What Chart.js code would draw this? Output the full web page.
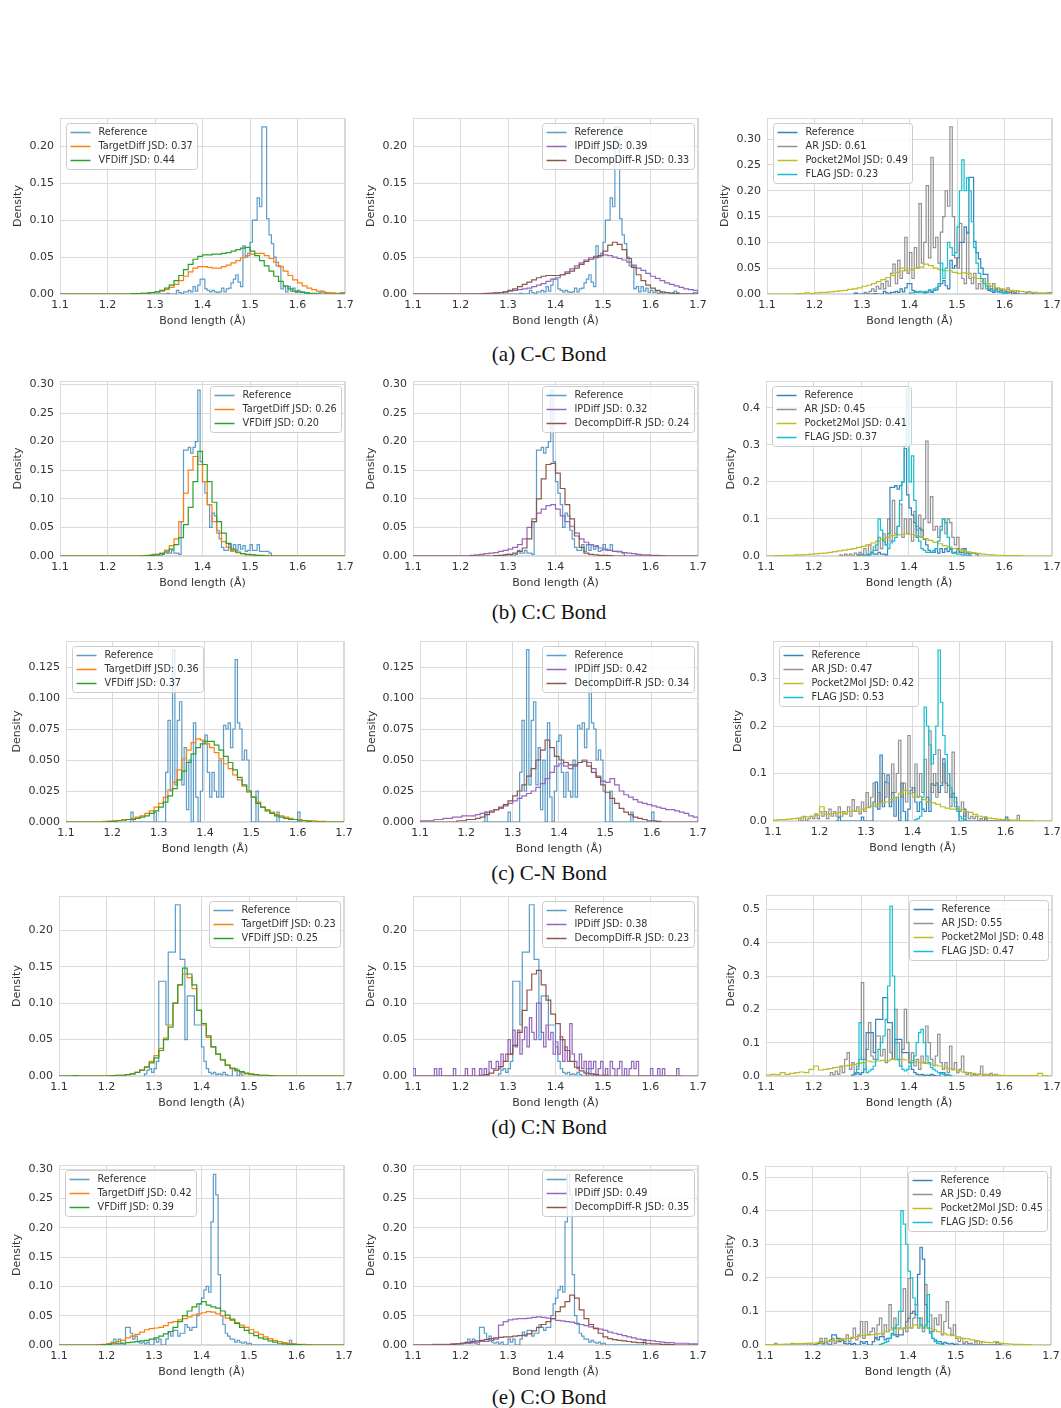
<!DOCTYPE html>
<html>
<head>
<meta charset="utf-8">
<script src="https://cdn.jsdelivr.net/npm/chart.js@4.4.1/dist/chart.umd.min.js"></script>
<style>
  html, body { margin: 0; padding: 0; background: #fff; overflow: hidden; }
  #fig { position: relative; width: 1061px; height: 1408px; }
  .panel { position: absolute; }
  .cap { position: absolute; width: 300px; text-align: center; font-family: 'Liberation Serif', 'Times New Roman', serif; font-size: 21px; line-height: 24px; color: #111; }
</style>
</head>
<body>
<div id="fig"></div>
<script>
// ---- axis ticks / labels ----
const xTicks = [1.1, 1.2, 1.3, 1.4, 1.5, 1.6, 1.7];
const yTicksMid = [0, 0.05, 0.10, 0.15, 0.20, 0.25, 0.30];
const yTicksFine = [0, 0.025, 0.05, 0.075, 0.1, 0.125];
const yTicksWide = [0, 0.1, 0.2, 0.3, 0.4, 0.5];
const captions = ['(a) C-C Bond', '(b) C:C Bond', '(c) C-N Bond', '(d) C:N Bond', '(e) C:O Bond'];
const yMaxMid = [0.238, 0.306, 0.146, 0.247, 0.307];
const yMaxRight = [0.341, 0.472, 0.379, 0.543, 0.533];

// JSD values shown in the legends, one per bond type
const jsdTarget = ['0.37', '0.26', '0.36', '0.23', '0.42'];
const jsdVF = ['0.44', '0.20', '0.37', '0.25', '0.39'];
const jsdIP = ['0.39', '0.32', '0.42', '0.38', '0.49'];
const jsdDecomp = ['0.33', '0.24', '0.34', '0.23', '0.35'];
const jsdAR = ['0.61', '0.45', '0.47', '0.55', '0.49'];
const jsdP2M = ['0.49', '0.41', '0.42', '0.48', '0.45'];
const jsdFLAG = ['0.23', '0.37', '0.53', '0.47', '0.56'];

// ---- densities. smooth models: 0.01 bins from 1.10 ; spiky ones: 0.005 bins from their start ----
// (a) C-C
const refCC = [0, 0.002, 0, 0, 0, 0, 0, 0, 0, 0.001,
  0, 0, 0, 0.005, 0.002, 0, 0.003, 0.003, 0.005, 0.003,
  0.01, 0.004, 0.012, 0.02, 0.02, 0.007, 0.005, 0.003, 0.005, 0.003,
  0.002, 0.003, 0.008, 0.003, 0.007, 0.008, 0.015, 0.02, 0.026, 0.016,
  0.01, 0.065, 0.05, 0.055, 0.07, 0.1, 0.1, 0.13, 0.118, 0.226,
  0.226, 0.102, 0.08, 0.068, 0.05, 0.038, 0.038, 0.007, 0.01, 0.003,
  0.01, 0.004, 0.008, 0.002, 0.005, 0.002, 0.003, 0, 0.002, 0,
  0, 0, 0, 0.002, 0.004, 0.002, 0, 0, 0, 0,
  0, 0, 0.002, 0.002];
const ccTarget = [0, 0, 0, 0, 0, 0, 0, 0, 0, 0,
  0, 0, 0, 0, 0, 0.0005, 0.0005, 0.001, 0.001, 0.002,
  0.003, 0.004, 0.006, 0.009, 0.013, 0.018, 0.024, 0.03, 0.035, 0.037,
  0.037, 0.036, 0.035, 0.035, 0.037, 0.039, 0.042, 0.045, 0.049, 0.052,
  0.054, 0.055, 0.055, 0.052, 0.048, 0.043, 0.037, 0.031, 0.025, 0.019,
  0.015, 0.011, 0.008, 0.006, 0.004, 0.003, 0.002, 0.0015, 0.001, 0.001];
const ccVF = [0, 0, 0, 0, 0, 0, 0, 0, 0, 0,
  0, 0, 0, 0, 0, 0.0005, 0.0005, 0.001, 0.001, 0.002,
  0.003, 0.005, 0.008, 0.012, 0.018, 0.025, 0.033, 0.04, 0.047, 0.051,
  0.053, 0.053, 0.054, 0.054, 0.055, 0.056, 0.058, 0.06, 0.062, 0.063,
  0.058, 0.052, 0.045, 0.038, 0.031, 0.024, 0.017, 0.011, 0.007, 0.004,
  0.003, 0.002, 0.001, 0.001, 0, 0, 0, 0, 0, 0];
const ccIP = [0, 0, 0, 0, 0, 0, 0, 0, 0, 0,
  0, 0, 0, 0, 0.0005, 0.001, 0.001, 0.002, 0.002, 0.003,
  0.004, 0.005, 0.006, 0.007, 0.008, 0.01, 0.012, 0.014, 0.017, 0.02,
  0.022, 0.026, 0.03, 0.034, 0.038, 0.042, 0.046, 0.049, 0.051, 0.052,
  0.053, 0.052, 0.05, 0.048, 0.046, 0.043, 0.039, 0.035, 0.032, 0.028,
  0.024, 0.021, 0.018, 0.015, 0.013, 0.011, 0.009, 0.007, 0.006, 0.005];
const ccDecomp = [0, 0, 0, 0, 0, 0, 0, 0, 0, 0,
  0, 0, 0, 0, 0, 0.0005, 0.001, 0.001, 0.002, 0.003,
  0.005, 0.007, 0.01, 0.013, 0.016, 0.019, 0.022, 0.024, 0.025, 0.025,
  0.025, 0.026, 0.028, 0.031, 0.035, 0.04, 0.044, 0.047, 0.049, 0.052,
  0.058, 0.066, 0.07, 0.067, 0.06, 0.048, 0.036, 0.026, 0.018, 0.012,
  0.008, 0.005, 0.003, 0.002, 0.001, 0.0005, 0, 0, 0, 0];
const arCC = [0, 0.003, 0, 0.005, 0.01, 0.005, 0.015, 0.01, 0.02, 0.01,
  0.025, 0.015, 0.04, 0.058, 0.02, 0.065, 0.03, 0.045, 0.11, 0.04,
  0.08, 0.03, 0.09, 0.05, 0.175, 0.06, 0.1, 0.21, 0.07, 0.265,
  0.09, 0.11, 0.06, 0.12, 0.15, 0.2, 0.17, 0.324, 0.15, 0.07,
  0.05, 0.137, 0.03, 0.02, 0.12, 0.03, 0.02, 0.04, 0.01, 0.02,
  0.01, 0.03, 0.01, 0.015, 0.005, 0.02, 0.005, 0.01, 0.003, 0.008,
  0, 0.012, 0.003, 0.005, 0, 0.006];
const ccP2M = [0, 0, 0, 0, 0, 0, 0.001, 0.001, 0.002, 0.001,
  0.002, 0.003, 0.003, 0.004, 0.005, 0.006, 0.007, 0.009, 0.01, 0.012,
  0.015, 0.017, 0.02, 0.024, 0.028, 0.032, 0.036, 0.042, 0.05, 0.045,
  0.047, 0.05, 0.052, 0.058, 0.055, 0.05, 0.047, 0.045, 0.045, 0.042,
  0.04, 0.041, 0.04, 0.032, 0.03, 0.024, 0.02, 0.015, 0.012, 0.01,
  0.008, 0.007, 0.006, 0.005, 0.004, 0.003, 0.003, 0.002, 0.002, 0.001];
const flagCC = [0.002, 0.002, 0.003, 0.003, 0.004, 0.003, 0.005, 0.004, 0.006, 0.005,
  0.01, 0.012, 0.02, 0.06, 0.03, 0.05, 0.1, 0.09, 0.075, 0.08,
  0.13, 0.2, 0.26, 0.2, 0.225, 0.2, 0.14, 0.09, 0.06, 0.04,
  0.03, 0.02, 0.015, 0.01, 0.008, 0.006, 0.005, 0.004, 0.003, 0.002,
  0.002];

// (b) C:C
const refCCar = [0, 0.003, 0.003, 0, 0, 0.003, 0.01, 0.005, 0.005, 0.01,
  0.005, 0.005, 0.003, 0.06, 0.185, 0.185, 0.19, 0.18, 0.19, 0.2,
  0.29, 0.165, 0.13, 0.11, 0.09, 0.05, 0.075, 0.07, 0.045, 0.03,
  0.015, 0.01, 0.01, 0.02, 0.008, 0.02, 0.01, 0.02, 0.012, 0.018,
  0.008, 0.01, 0.02, 0.01, 0.01, 0.02, 0.008, 0.008, 0.008, 0.008,
  0.005];
const ccarTarget = [0, 0, 0, 0, 0, 0, 0, 0, 0, 0,
  0, 0, 0, 0, 0, 0, 0, 0.0005, 0.001, 0.002,
  0.003, 0.005, 0.01, 0.018, 0.03, 0.06, 0.11, 0.15, 0.174, 0.16,
  0.13, 0.09, 0.06, 0.04, 0.025, 0.015, 0.009, 0.006, 0.004, 0.002,
  0.002, 0.001, 0.001, 0.0005, 0, 0, 0, 0, 0, 0,
  0, 0, 0, 0, 0, 0, 0, 0, 0, 0];
const ccarVF = [0, 0, 0, 0, 0, 0, 0, 0, 0, 0,
  0, 0, 0, 0, 0, 0, 0, 0, 0.0005, 0.001,
  0.002, 0.004, 0.007, 0.012, 0.02, 0.032, 0.055, 0.085, 0.13, 0.183,
  0.16, 0.13, 0.094, 0.06, 0.04, 0.022, 0.012, 0.007, 0.004, 0.003,
  0.002, 0.001, 0.0005, 0, 0, 0, 0, 0, 0, 0,
  0, 0, 0, 0, 0, 0, 0, 0, 0, 0];
const ccarIP = [0, 0, 0, 0, 0, 0, 0, 0, 0, 0,
  0, 0, 0.001, 0.002, 0.003, 0.004, 0.005, 0.006, 0.008, 0.01,
  0.012, 0.015, 0.02, 0.03, 0.05, 0.065, 0.075, 0.082, 0.088, 0.09,
  0.082, 0.07, 0.06, 0.052, 0.04, 0.03, 0.024, 0.02, 0.017, 0.014,
  0.012, 0.01, 0.008, 0.007, 0.006, 0.005, 0.004, 0.003, 0.002, 0.002,
  0.001, 0.001, 0.0005, 0, 0, 0, 0, 0, 0, 0];
const ccarDecomp = [0, 0, 0, 0, 0, 0, 0, 0, 0, 0,
  0, 0, 0, 0, 0, 0, 0, 0.0005, 0.001, 0.002,
  0.003, 0.005, 0.008, 0.014, 0.03, 0.06, 0.1, 0.135, 0.16, 0.162,
  0.145, 0.118, 0.09, 0.065, 0.035, 0.015, 0.005, 0.003, 0.002, 0.001,
  0.001, 0.0005, 0, 0, 0, 0, 0, 0, 0, 0,
  0, 0, 0, 0, 0, 0, 0, 0, 0, 0];
const arCCar = [0.003, 0, 0.005, 0, 0.005, 0, 0.008, 0.003, 0.01, 0.005,
  0.02, 0.005, 0.03, 0.01, 0.025, 0.015, 0.05, 0.02, 0.06, 0.03,
  0.1, 0.04, 0.15, 0.06, 0.08, 0.14, 0.05, 0.1, 0.06, 0.1,
  0.04, 0.12, 0.07, 0.11, 0.05, 0.1, 0.31, 0.09, 0.16, 0.07,
  0.08, 0.05, 0.08, 0.1, 0.06, 0.1, 0.09, 0.05, 0.03, 0.05,
  0.01, 0.02, 0.005, 0.01, 0.003];
const ccarP2M = [0, 0, 0.001, 0.001, 0.002, 0.002, 0.003, 0.003, 0.004, 0.005,
  0.006, 0.007, 0.008, 0.01, 0.012, 0.014, 0.016, 0.018, 0.02, 0.023,
  0.026, 0.03, 0.035, 0.04, 0.045, 0.05, 0.055, 0.057, 0.058, 0.06,
  0.058, 0.055, 0.052, 0.047, 0.042, 0.037, 0.033, 0.028, 0.024, 0.02,
  0.017, 0.014, 0.011, 0.009, 0.007, 0.005, 0.004, 0.003, 0.002, 0.002,
  0.001, 0.001, 0.001, 0.0005, 0, 0, 0, 0, 0, 0];
const flagCCar = [0.002, 0.003, 0.005, 0.008, 0.015, 0.03, 0.1, 0.07, 0.04, 0.03,
  0.02, 0.035, 0.04, 0.05, 0.08, 0.15, 0.2, 0.3, 0.45, 0.2,
  0.27, 0.15, 0.08, 0.04, 0.02, 0.015, 0.01, 0.01, 0.01, 0.015,
  0.02, 0.04, 0.07, 0.1, 0.09, 0.05, 0.02, 0.01, 0.008, 0.005,
  0.005, 0.003, 0.003, 0.002, 0.002];

// (c) C-N
const refCN = [0, 0.008, 0, 0, 0, 0, 0, 0, 0, 0,
  0, 0.008, 0, 0, 0, 0, 0.04, 0.082, 0.025, 0.139,
  0.03, 0.082, 0.097, 0.03, 0.06, 0.01, 0.05, 0, 0.08, 0.02,
  0, 0.025, 0.065, 0.07, 0.04, 0.02, 0.04, 0.025, 0.02, 0.05,
  0.02, 0.078, 0.075, 0.08, 0.06, 0.075, 0.131, 0.08, 0.075, 0.05,
  0.058, 0.05, 0.025, 0, 0, 0.025, 0, 0, 0, 0,
  0, 0, 0, 0, 0.008, 0, 0, 0, 0, 0,
  0, 0, 0, 0.008, 0];
const cnTarget = [0, 0, 0, 0, 0, 0, 0, 0, 0.0005, 0.0005,
  0.001, 0.001, 0.002, 0.002, 0.003, 0.004, 0.005, 0.007, 0.009, 0.012,
  0.015, 0.02, 0.026, 0.032, 0.042, 0.051, 0.058, 0.064, 0.067, 0.066,
  0.063, 0.06, 0.056, 0.051, 0.047, 0.043, 0.038, 0.034, 0.029, 0.024,
  0.02, 0.016, 0.012, 0.01, 0.008, 0.006, 0.005, 0.004, 0.003, 0.002,
  0.002, 0.001, 0.001, 0.001, 0.0005, 0.0005, 0, 0, 0, 0];
const cnVF = [0, 0, 0, 0, 0, 0, 0, 0, 0, 0.0005,
  0.0005, 0.001, 0.001, 0.002, 0.002, 0.003, 0.004, 0.005, 0.007, 0.009,
  0.012, 0.016, 0.021, 0.027, 0.034, 0.041, 0.048, 0.055, 0.06, 0.063,
  0.065, 0.065, 0.062, 0.058, 0.053, 0.048, 0.042, 0.036, 0.03, 0.025,
  0.02, 0.015, 0.012, 0.009, 0.007, 0.005, 0.004, 0.003, 0.002, 0.002,
  0.001, 0.001, 0.0005, 0, 0, 0, 0, 0, 0, 0];
const cnIP = [0.001, 0.001, 0.001, 0.002, 0.002, 0.003, 0.003, 0.004, 0.004, 0.005,
  0.005, 0.005, 0.006, 0.007, 0.008, 0.009, 0.01, 0.011, 0.013, 0.015,
  0.017, 0.019, 0.021, 0.023, 0.025, 0.028, 0.031, 0.035, 0.04, 0.045,
  0.047, 0.045, 0.043, 0.045, 0.048, 0.05, 0.048, 0.043, 0.037, 0.033,
  0.032, 0.035, 0.03, 0.025, 0.022, 0.02, 0.018, 0.016, 0.015, 0.014,
  0.013, 0.012, 0.011, 0.01, 0.01, 0.009, 0.008, 0.007, 0.005, 0.004];
const cnDecomp = [0, 0, 0, 0, 0, 0, 0, 0, 0.001, 0.001,
  0.002, 0.002, 0.003, 0.004, 0.006, 0.008, 0.01, 0.012, 0.014, 0.017,
  0.021, 0.025, 0.03, 0.037, 0.043, 0.05, 0.058, 0.066, 0.06, 0.053,
  0.05, 0.048, 0.046, 0.046, 0.048, 0.049, 0.045, 0.04, 0.036, 0.03,
  0.024, 0.019, 0.015, 0.011, 0.008, 0.006, 0.004, 0.003, 0.002, 0.001,
  0.001, 0.0005, 0, 0, 0, 0, 0, 0, 0, 0];
const arCN = [0.005, 0, 0.01, 0, 0.005, 0.01, 0.005, 0.015, 0.005, 0.02,
  0.01, 0.02, 0.005, 0.025, 0.01, 0.02, 0.01, 0.03, 0.01, 0.02,
  0.015, 0.03, 0.01, 0.045, 0.02, 0.03, 0.015, 0.04, 0.02, 0.06,
  0.03, 0.05, 0.08, 0.03, 0.06, 0.04, 0.1, 0.05, 0.08, 0.04,
  0.12, 0.06, 0.1, 0.17, 0.05, 0.08, 0.04, 0.18, 0.07, 0.06,
  0.12, 0.05, 0.1, 0.06, 0.13, 0.04, 0.19, 0.06, 0.1, 0.05,
  0.15, 0.08, 0.12, 0.06, 0.1, 0.03, 0.145, 0.04, 0.03, 0.02,
  0.04, 0.01, 0.02, 0.005, 0.01, 0.005, 0.01, 0, 0.005, 0,
  0.005, 0, 0, 0, 0, 0, 0, 0, 0, 0,
  0, 0, 0, 0, 0.012, 0];
const cnP2M = [0.002, 0.003, 0.003, 0.004, 0.005, 0.006, 0.008, 0.009, 0.01, 0.012,
  0.03, 0.014, 0.015, 0.016, 0.018, 0.015, 0.02, 0.022, 0.02, 0.025,
  0.028, 0.032, 0.035, 0.038, 0.04, 0.045, 0.05, 0.058, 0.065, 0.058,
  0.05, 0.052, 0.045, 0.04, 0.038, 0.035, 0.03, 0.027, 0.025, 0.025,
  0.024, 0.02, 0.018, 0.014, 0.01, 0.008, 0.006, 0.005, 0.004, 0.003,
  0.003, 0.002, 0.002, 0.001, 0.001, 0.001, 0, 0, 0, 0];
const flagCN = [0.003, 0.005, 0.01, 0.05, 0.24, 0.2, 0.16, 0.12, 0.14, 0.2,
  0.36, 0.25, 0.18, 0.14, 0.1, 0.07, 0.05, 0.03, 0.02, 0.01,
  0.005, 0.003];

// (d) C:N
const refCNar = [0.003, 0.008, 0.01, 0.005, 0.01, 0.02, 0.13, 0.13, 0.13, 0.07,
  0.17, 0.17, 0.17, 0.235, 0.235, 0.16, 0.16, 0.05, 0.11, 0.11,
  0.11, 0.07, 0.07, 0.07, 0.04, 0.02, 0.01, 0.005, 0.003, 0.005,
  0.002, 0.003, 0.002, 0.005, 0.002, 0, 0, 0.01, 0.01, 0,
  0.003, 0];
const cnarTarget = [0, 0, 0, 0, 0, 0, 0, 0, 0, 0,
  0.0005, 0.0005, 0.001, 0.001, 0.002, 0.003, 0.005, 0.008, 0.013, 0.02,
  0.028, 0.038, 0.052, 0.07, 0.1, 0.125, 0.14, 0.135, 0.12, 0.09,
  0.07, 0.053, 0.04, 0.03, 0.022, 0.015, 0.01, 0.007, 0.005, 0.003,
  0.002, 0.0015, 0.001, 0.001, 0.0005, 0.0005, 0, 0, 0, 0,
  0, 0, 0, 0, 0, 0, 0, 0, 0, 0];
const cnarVF = [0, 0, 0, 0.0005, 0, 0, 0, 0, 0, 0,
  0, 0.0005, 0.001, 0.001, 0.002, 0.003, 0.005, 0.008, 0.012, 0.018,
  0.025, 0.035, 0.05, 0.067, 0.1, 0.125, 0.148, 0.14, 0.125, 0.09,
  0.072, 0.055, 0.04, 0.03, 0.022, 0.015, 0.011, 0.008, 0.006, 0.004,
  0.003, 0.002, 0.001, 0.001, 0.0005, 0, 0, 0, 0, 0,
  0, 0, 0, 0, 0, 0, 0, 0, 0, 0];
const ipCNar = [0.01, 0, 0, 0, 0, 0, 0, 0, 0, 0.01,
  0, 0.01, 0, 0, 0, 0, 0, 0.01, 0, 0,
  0, 0, 0.01, 0, 0, 0.01, 0, 0, 0.01, 0,
  0.01, 0, 0.02, 0.01, 0.01, 0.02, 0.01, 0.03, 0.02, 0.03,
  0.05, 0.03, 0.063, 0.04, 0.063, 0.03, 0.05, 0.067, 0.04, 0.08,
  0.06, 0.05, 0.1, 0.1, 0.06, 0.04, 0.07, 0.05, 0.06, 0.03,
  0.047, 0.03, 0.054, 0.02, 0.04, 0.02, 0.072, 0.03, 0.02, 0.01,
  0.03, 0.01, 0.02, 0, 0.02, 0.01, 0.02, 0, 0.01, 0.02,
  0, 0.01, 0, 0.02, 0.01, 0, 0.01, 0.02, 0, 0.01,
  0, 0.01, 0.02, 0.01, 0.02, 0, 0, 0, 0, 0,
  0.01, 0, 0, 0.01, 0, 0.01, 0, 0, 0, 0,
  0, 0.01, 0];
const cnarDecomp = [0, 0, 0, 0, 0, 0, 0, 0, 0, 0,
  0, 0, 0, 0, 0.001, 0.002, 0.004, 0.008, 0.013, 0.02,
  0.03, 0.042, 0.06, 0.09, 0.118, 0.14, 0.145, 0.125, 0.104, 0.085,
  0.072, 0.05, 0.035, 0.02, 0.012, 0.007, 0.004, 0.003, 0.002, 0.001,
  0.001, 0, 0, 0, 0, 0, 0, 0, 0, 0,
  0, 0, 0, 0, 0, 0, 0, 0, 0, 0];
const arCNar = [0.01, 0.003, 0.015, 0.005, 0.03, 0.01, 0.05, 0.07, 0.02, 0.04,
  0.01, 0.03, 0.05, 0.28, 0.05, 0.08, 0.16, 0.06, 0.05, 0.12,
  0.12, 0.06, 0.08, 0.04, 0.14, 0.07, 0.05, 0.2, 0.1, 0.03,
  0.08, 0.2, 0.1, 0.04, 0.07, 0.03, 0.05, 0.02, 0.06, 0.04,
  0.15, 0.1, 0.05, 0.03, 0.06, 0.125, 0.04, 0.02, 0.04, 0.01,
  0.09, 0.02, 0.04, 0.01, 0.02, 0.06, 0.01, 0.005, 0.01, 0,
  0.005, 0, 0.005, 0.03, 0, 0.005, 0, 0.008, 0, 0.005];
const cnarP2M = [0.003, 0.005, 0.004, 0.01, 0.005, 0.008, 0.01, 0.012, 0.01, 0.02,
  0.03, 0.018, 0.02, 0.022, 0.025, 0.027, 0.03, 0.032, 0.035, 0.038,
  0.04, 0.045, 0.042, 0.045, 0.047, 0.045, 0.05, 0.048, 0.05, 0.048,
  0.046, 0.042, 0.04, 0.038, 0.036, 0.033, 0.03, 0.027, 0.022, 0.018,
  0.015, 0.012, 0.01, 0.008, 0.006, 0.005, 0.004, 0.003, 0.003, 0.002,
  0.001, 0.001, 0.001, 0.001, 0.001, 0.001, 0.001, 0.008, 0.001, 0];
const flagCNar = [0.003, 0.005, 0.02, 0.16, 0.05, 0.02, 0.01, 0.015, 0.02, 0.03,
  0.05, 0.08, 0.1, 0.12, 0.17, 0.27, 0.51, 0.3, 0.1, 0.05,
  0.03, 0.02, 0.015, 0.02, 0.03, 0.04, 0.06, 0.1, 0.13, 0.14,
  0.1, 0.06, 0.04, 0.025, 0.02, 0.015, 0.01, 0.008, 0.005, 0.005,
  0.003, 0.002];

// (e) C:O
const refCO = [0, 0.003, 0.005, 0.01, 0.003, 0.01, 0.003, 0, 0.03, 0.03,
  0.02, 0.01, 0.015, 0.005, 0.003, 0.005, 0.002, 0.005, 0, 0,
  0.01, 0.005, 0.01, 0, 0, 0.01, 0.022, 0.015, 0.025, 0.025,
  0.015, 0.02, 0.02, 0.035, 0.03, 0.025, 0.03, 0.03, 0.05, 0.07,
  0.08, 0.094, 0.1, 0.09, 0.21, 0.291, 0.256, 0.12, 0.05, 0.035,
  0.02, 0.015, 0.01, 0.01, 0.005, 0.008, 0.005, 0.003, 0.005, 0.002,
  0.003, 0, 0, 0, 0, 0, 0, 0, 0, 0,
  0, 0, 0, 0, 0, 0, 0, 0.008, 0];
const coTarget = [0, 0, 0, 0, 0, 0, 0, 0, 0.0005, 0.001,
  0.002, 0.004, 0.006, 0.008, 0.012, 0.015, 0.018, 0.022, 0.026, 0.028,
  0.029, 0.03, 0.033, 0.038, 0.04, 0.043, 0.045, 0.048, 0.051, 0.053,
  0.055, 0.057, 0.056, 0.053, 0.05, 0.046, 0.042, 0.038, 0.034, 0.03,
  0.026, 0.022, 0.018, 0.014, 0.011, 0.008, 0.006, 0.004, 0.003, 0.002,
  0.001, 0.001, 0.0005, 0, 0, 0, 0, 0, 0, 0];
const coVF = [0, 0, 0, 0, 0, 0, 0, 0, 0, 0.0005,
  0.001, 0.002, 0.002, 0.003, 0.004, 0.005, 0.006, 0.007, 0.008, 0.01,
  0.012, 0.015, 0.019, 0.023, 0.03, 0.04, 0.05, 0.058, 0.065, 0.07,
  0.074, 0.068, 0.065, 0.063, 0.058, 0.051, 0.044, 0.037, 0.03, 0.025,
  0.02, 0.016, 0.012, 0.01, 0.007, 0.005, 0.003, 0.002, 0.001, 0.001,
  0.0005, 0, 0, 0, 0, 0, 0, 0, 0, 0];
const coIP = [0, 0, 0, 0, 0.001, 0.001, 0.001, 0.001, 0.002, 0.002,
  0.003, 0.003, 0.004, 0.005, 0.006, 0.006, 0.008, 0.01, 0.034, 0.04,
  0.043, 0.044, 0.045, 0.045, 0.046, 0.047, 0.048, 0.047, 0.046, 0.045,
  0.042, 0.041, 0.04, 0.039, 0.037, 0.035, 0.033, 0.031, 0.029, 0.027,
  0.025, 0.022, 0.02, 0.018, 0.016, 0.014, 0.012, 0.01, 0.009, 0.008,
  0.007, 0.006, 0.005, 0.004, 0.004, 0.003, 0.003, 0.003, 0.002, 0.002];
const coDecomp = [0, 0, 0, 0, 0, 0, 0, 0, 0.001, 0.002,
  0.003, 0.004, 0.006, 0.007, 0.008, 0.009, 0.011, 0.012, 0.013, 0.014,
  0.014, 0.015, 0.016, 0.017, 0.019, 0.024, 0.03, 0.035, 0.04, 0.045,
  0.057, 0.065, 0.074, 0.085, 0.08, 0.06, 0.045, 0.035, 0.028, 0.02,
  0.014, 0.011, 0.009, 0.008, 0.007, 0.006, 0.005, 0.004, 0.004, 0.003,
  0.002, 0.002, 0.001, 0.001, 0.0005, 0, 0, 0, 0, 0];
const arCO = [0, 0.005, 0, 0, 0, 0, 0, 0, 0.005, 0,
  0, 0, 0, 0, 0, 0.005, 0, 0, 0,
  0.005, 0.02, 0.005, 0.02, 0.01, 0.015, 0.02, 0.005, 0.01, 0.02,
  0.015, 0.01, 0.03, 0.01, 0.02, 0.05, 0.015, 0.03, 0.07, 0.02,
  0.07, 0.03, 0.04, 0.05, 0.02, 0.06, 0.08, 0.03, 0.06, 0.04,
  0.12, 0.05, 0.08, 0.03, 0.05, 0.1, 0.168, 0.04, 0.198, 0.05,
  0.08, 0.12, 0.05, 0.08, 0.04, 0.18, 0.07, 0.09, 0.04, 0.08,
  0.06, 0.09, 0.03, 0.07, 0.129, 0.05, 0.03, 0.06, 0.02, 0.01,
  0.02, 0.005, 0.01, 0.005, 0.005, 0, 0.01,
  0, 0.01, 0, 0, 0, 0, 0, 0, 0, 0.005, 0];
const coP2M = [0.001, 0.001, 0.002, 0.002, 0.003, 0.003, 0.004, 0.004, 0.005, 0.005,
  0.006, 0.008, 0.01, 0.011, 0.013, 0.015, 0.018, 0.02, 0.023, 0.025,
  0.028, 0.03, 0.031, 0.033, 0.035, 0.04, 0.045, 0.05, 0.048, 0.05,
  0.052, 0.06, 0.057, 0.055, 0.05, 0.045, 0.04, 0.035, 0.03, 0.028,
  0.024, 0.02, 0.018, 0.015, 0.013, 0.01, 0.008, 0.007, 0.01, 0.005,
  0.004, 0.003, 0.002, 0.002, 0.001, 0.001, 0, 0, 0, 0];
const flagCO = [0.002, 0.005, 0.008, 0.01, 0.02, 0.03, 0.05, 0.06, 0.1, 0.4,
  0.36, 0.3, 0.22, 0.2, 0.14, 0.12, 0.08, 0.06, 0.05, 0.06,
  0.15, 0.04, 0.02, 0.01, 0.005, 0.003, 0.002];

// ---- look ----
const FONT = "'DejaVu Sans', sans-serif";
const INK = '#333333';
const GRID = '#dadada';
const C = {
  ref: 'rgba(31,119,180,0.72)', ref3: 'rgba(31,119,180,0.9)',
  target: '#ff7f0e', vf: '#2ca02c', ip: '#9467bd', decomp: '#8c564b',
  ar: 'rgba(127,127,127,0.85)', p2m: '#bcbd22', flag: '#17becf'
};
Chart.defaults.font.family = FONT;

// plot-area boxes [left, top, right, bottom] per row / column
const boxes = [
  [[60, 118, 345, 294], [413, 118, 698, 294], [767, 118, 1052, 294]],
  [[60, 381, 345, 556], [413, 381, 698, 556], [766, 381, 1052, 556]],
  [[66, 641, 344, 822], [420, 641, 698, 822], [773, 641, 1052, 821]],
  [[59, 896, 344, 1076], [413, 896, 698, 1076], [766, 895, 1052, 1076]],
  [[59, 1165, 344, 1345], [413, 1165, 698, 1345], [765, 1166, 1051, 1345]]
];
const yAxisW = [[48, 48, 48], [48, 48, 41], [55, 54, 41], [48, 48, 41], [48, 48, 41]];
const legendSide = [['left', 'right', 'left'], ['right', 'right', 'left'], ['left', 'right', 'left'],
  ['right', 'right', 'right'], ['left', 'right', 'right']];
const captionY = [342, 600, 861, 1115, 1385];

// step histogram outline from bin heights
function hist(x0, w, ys) {
  const pts = [{ x: x0, y: 0 }];
  ys.forEach((v, i) => pts.push({ x: +(x0 + i * w).toFixed(4), y: v }));
  pts.push({ x: +(x0 + ys.length * w).toFixed(4), y: 0 });
  return pts;
}

const rowData = [
  { ref: hist(1.28, 0.005, refCC), target: hist(1.1, 0.01, ccTarget), vf: hist(1.1, 0.01, ccVF),
    ip: hist(1.1, 0.01, ccIP), decomp: hist(1.1, 0.01, ccDecomp),
    ar: hist(1.30, 0.005, arCC), p2m: hist(1.1, 0.01, ccP2M), flag: hist(1.40, 0.005, flagCC) },
  { ref: hist(1.29, 0.005, refCCar), target: hist(1.1, 0.01, ccarTarget), vf: hist(1.1, 0.01, ccarVF),
    ip: hist(1.1, 0.01, ccarIP), decomp: hist(1.1, 0.01, ccarDecomp),
    ar: hist(1.255, 0.005, arCCar), p2m: hist(1.1, 0.01, ccarP2M), flag: hist(1.305, 0.005, flagCCar) },
  { ref: hist(1.235, 0.005, refCN), target: hist(1.1, 0.01, cnTarget), vf: hist(1.1, 0.01, cnVF),
    ip: hist(1.1, 0.01, cnIP), decomp: hist(1.1, 0.01, cnDecomp),
    ar: hist(1.155, 0.005, arCN), p2m: hist(1.1, 0.01, cnP2M), flag: hist(1.405, 0.005, flagCN) },
  { ref: hist(1.28, 0.005, refCNar), target: hist(1.1, 0.01, cnarTarget), vf: hist(1.1, 0.01, cnarVF),
    ip: hist(1.1, 0.005, ipCNar), decomp: hist(1.1, 0.01, cnarDecomp),
    ar: hist(1.235, 0.005, arCNar), p2m: hist(1.1, 0.01, cnarP2M), flag: hist(1.28, 0.005, flagCNar) },
  { ref: hist(1.2, 0.005, refCO), target: hist(1.1, 0.01, coTarget), vf: hist(1.1, 0.01, coVF),
    ip: hist(1.1, 0.01, coIP), decomp: hist(1.1, 0.01, coDecomp),
    ar: hist(1.115, 0.005, arCO), p2m: hist(1.1, 0.01, coP2M), flag: hist(1.34, 0.005, flagCO) }
];

// axes frame (all four spines, light gray)
const framePlugin = {
  id: 'frame',
  beforeDatasetsDraw(chart) {
    const { ctx, chartArea: a } = chart;
    ctx.save();
    ctx.strokeStyle = GRID;
    ctx.lineWidth = 1;
    ctx.strokeRect(Math.round(a.left) + 0.5, Math.round(a.top) + 0.5,
      Math.round(a.right - a.left) - 1, Math.round(a.bottom - a.top) - 1);
    ctx.restore();
  }
};

// matplotlib-like legend box inside the axes
const legendPlugin = {
  id: 'mplLegend',
  afterDatasetsDraw(chart, args, opts) {
    const { ctx, chartArea: a } = chart;
    const items = chart.data.datasets;
    ctx.save();
    ctx.font = '9.7px ' + FONT;
    const tw = Math.max(...items.map(d => ctx.measureText(d.label).width));
    const bw = Math.round(32 + tw + 5), bh = 4 + 14 * items.length;
    const bx = Math.round(opts.side === 'left' ? a.left + 6 : a.right - 4 - bw) + 0.5;
    const by = Math.round(a.top + 5) + 0.5;
    ctx.beginPath();
    if (ctx.roundRect) ctx.roundRect(bx, by, bw, bh, 3); else ctx.rect(bx, by, bw, bh);
    ctx.fillStyle = 'rgba(255,255,255,0.8)';
    ctx.fill();
    ctx.strokeStyle = '#cccccc';
    ctx.lineWidth = 1;
    ctx.stroke();
    items.forEach((d, i) => {
      const cy = by + 9 + 14 * i;
      ctx.strokeStyle = d.borderColor;
      ctx.lineWidth = 1.5;
      ctx.beginPath();
      ctx.moveTo(bx + 4, cy);
      ctx.lineTo(bx + 24, cy);
      ctx.stroke();
      ctx.fillStyle = INK;
      ctx.textBaseline = 'middle';
      ctx.fillText(d.label, bx + 32, cy);
    });
    ctx.restore();
  }
};

const fig = document.getElementById('fig');

function panel(r, c, series, yMax, yTicks, dec) {
  const [L, T, R, B] = boxes[r][c];
  const yw = yAxisW[r][c];
  const padT = 10, padR = 14, xh = 34;
  const wrap = document.createElement('div');
  wrap.className = 'panel';
  wrap.style.left = (L - yw) + 'px';
  wrap.style.top = (T - padT) + 'px';
  const cv = document.createElement('canvas');
  cv.width = yw + (R - L) + padR;
  cv.height = padT + (B - T) + xh;
  wrap.appendChild(cv);
  fig.appendChild(wrap);

  const n = series.length;
  const datasets = series.map((s, i) => ({
    label: s[0], data: s[1], borderColor: s[2], borderWidth: 1.2,
    stepped: 'before', pointRadius: 0, fill: false, order: n - 1 - i
  }));

  new Chart(cv, {
    type: 'line',
    data: { datasets },
    options: {
      responsive: false,
      animation: false,
      devicePixelRatio: 1,
      layout: { padding: { left: 0, top: padT, right: padR, bottom: 0 } },
      plugins: { legend: { display: false }, tooltip: { enabled: false }, mplLegend: { side: legendSide[r][c] } },
      scales: {
        x: {
          type: 'linear', min: 1.1, max: 1.7,
          afterBuildTicks: s => { s.ticks = xTicks.map(v => ({ value: v })); },
          afterFit: s => { s.height = xh; s.paddingLeft = 0; s.paddingRight = 0; },
          ticks: { padding: 5, color: INK, font: { size: 11 }, autoSkip: false, maxRotation: 0,
            callback: v => v.toFixed(1) },
          grid: { color: GRID, drawTicks: false },
          border: { display: false },
          title: { display: true, text: 'Bond length (Å)', color: INK, font: { size: 11 }, padding: 0 }
        },
        y: {
          min: 0, max: yMax,
          afterBuildTicks: s => { s.ticks = yTicks.filter(v => v <= yMax).map(v => ({ value: v })); },
          afterFit: s => { s.width = yw; s.paddingTop = 0; s.paddingBottom = 0; },
          ticks: { padding: 6, color: INK, font: { size: 11 }, autoSkip: false,
            callback: v => v.toFixed(dec) },
          grid: { color: GRID, drawTicks: false },
          border: { display: false },
          title: { display: true, text: 'Density', color: INK, font: { size: 11 }, padding: 0 }
        }
      }
    },
    plugins: [framePlugin, legendPlugin]
  });
}

captions.forEach((cap, r) => {
  const d = rowData[r];
  const midTicks = r === 2 ? yTicksFine : yTicksMid;
  const midDec = r === 2 ? 3 : 2;
  panel(r, 0, [
    ['Reference', d.ref, C.ref],
    ['TargetDiff JSD: ' + jsdTarget[r], d.target, C.target],
    ['VFDiff JSD: ' + jsdVF[r], d.vf, C.vf]
  ], yMaxMid[r], midTicks, midDec);
  panel(r, 1, [
    ['Reference', d.ref, C.ref],
    ['IPDiff JSD: ' + jsdIP[r], d.ip, C.ip],
    ['DecompDiff-R JSD: ' + jsdDecomp[r], d.decomp, C.decomp]
  ], yMaxMid[r], midTicks, midDec);
  panel(r, 2, [
    ['Reference', d.ref, C.ref3],
    ['AR JSD: ' + jsdAR[r], d.ar, C.ar],
    ['Pocket2Mol JSD: ' + jsdP2M[r], d.p2m, C.p2m],
    ['FLAG JSD: ' + jsdFLAG[r], d.flag, C.flag]
  ], yMaxRight[r], r === 0 ? yTicksMid : yTicksWide, r === 0 ? 2 : 1);

  const el = document.createElement('div');
  el.className = 'cap';
  el.style.left = (549 - 150) + 'px';
  el.style.top = captionY[r] + 'px';
  el.textContent = cap;
  fig.appendChild(el);
});
</script>
</body>
</html>
